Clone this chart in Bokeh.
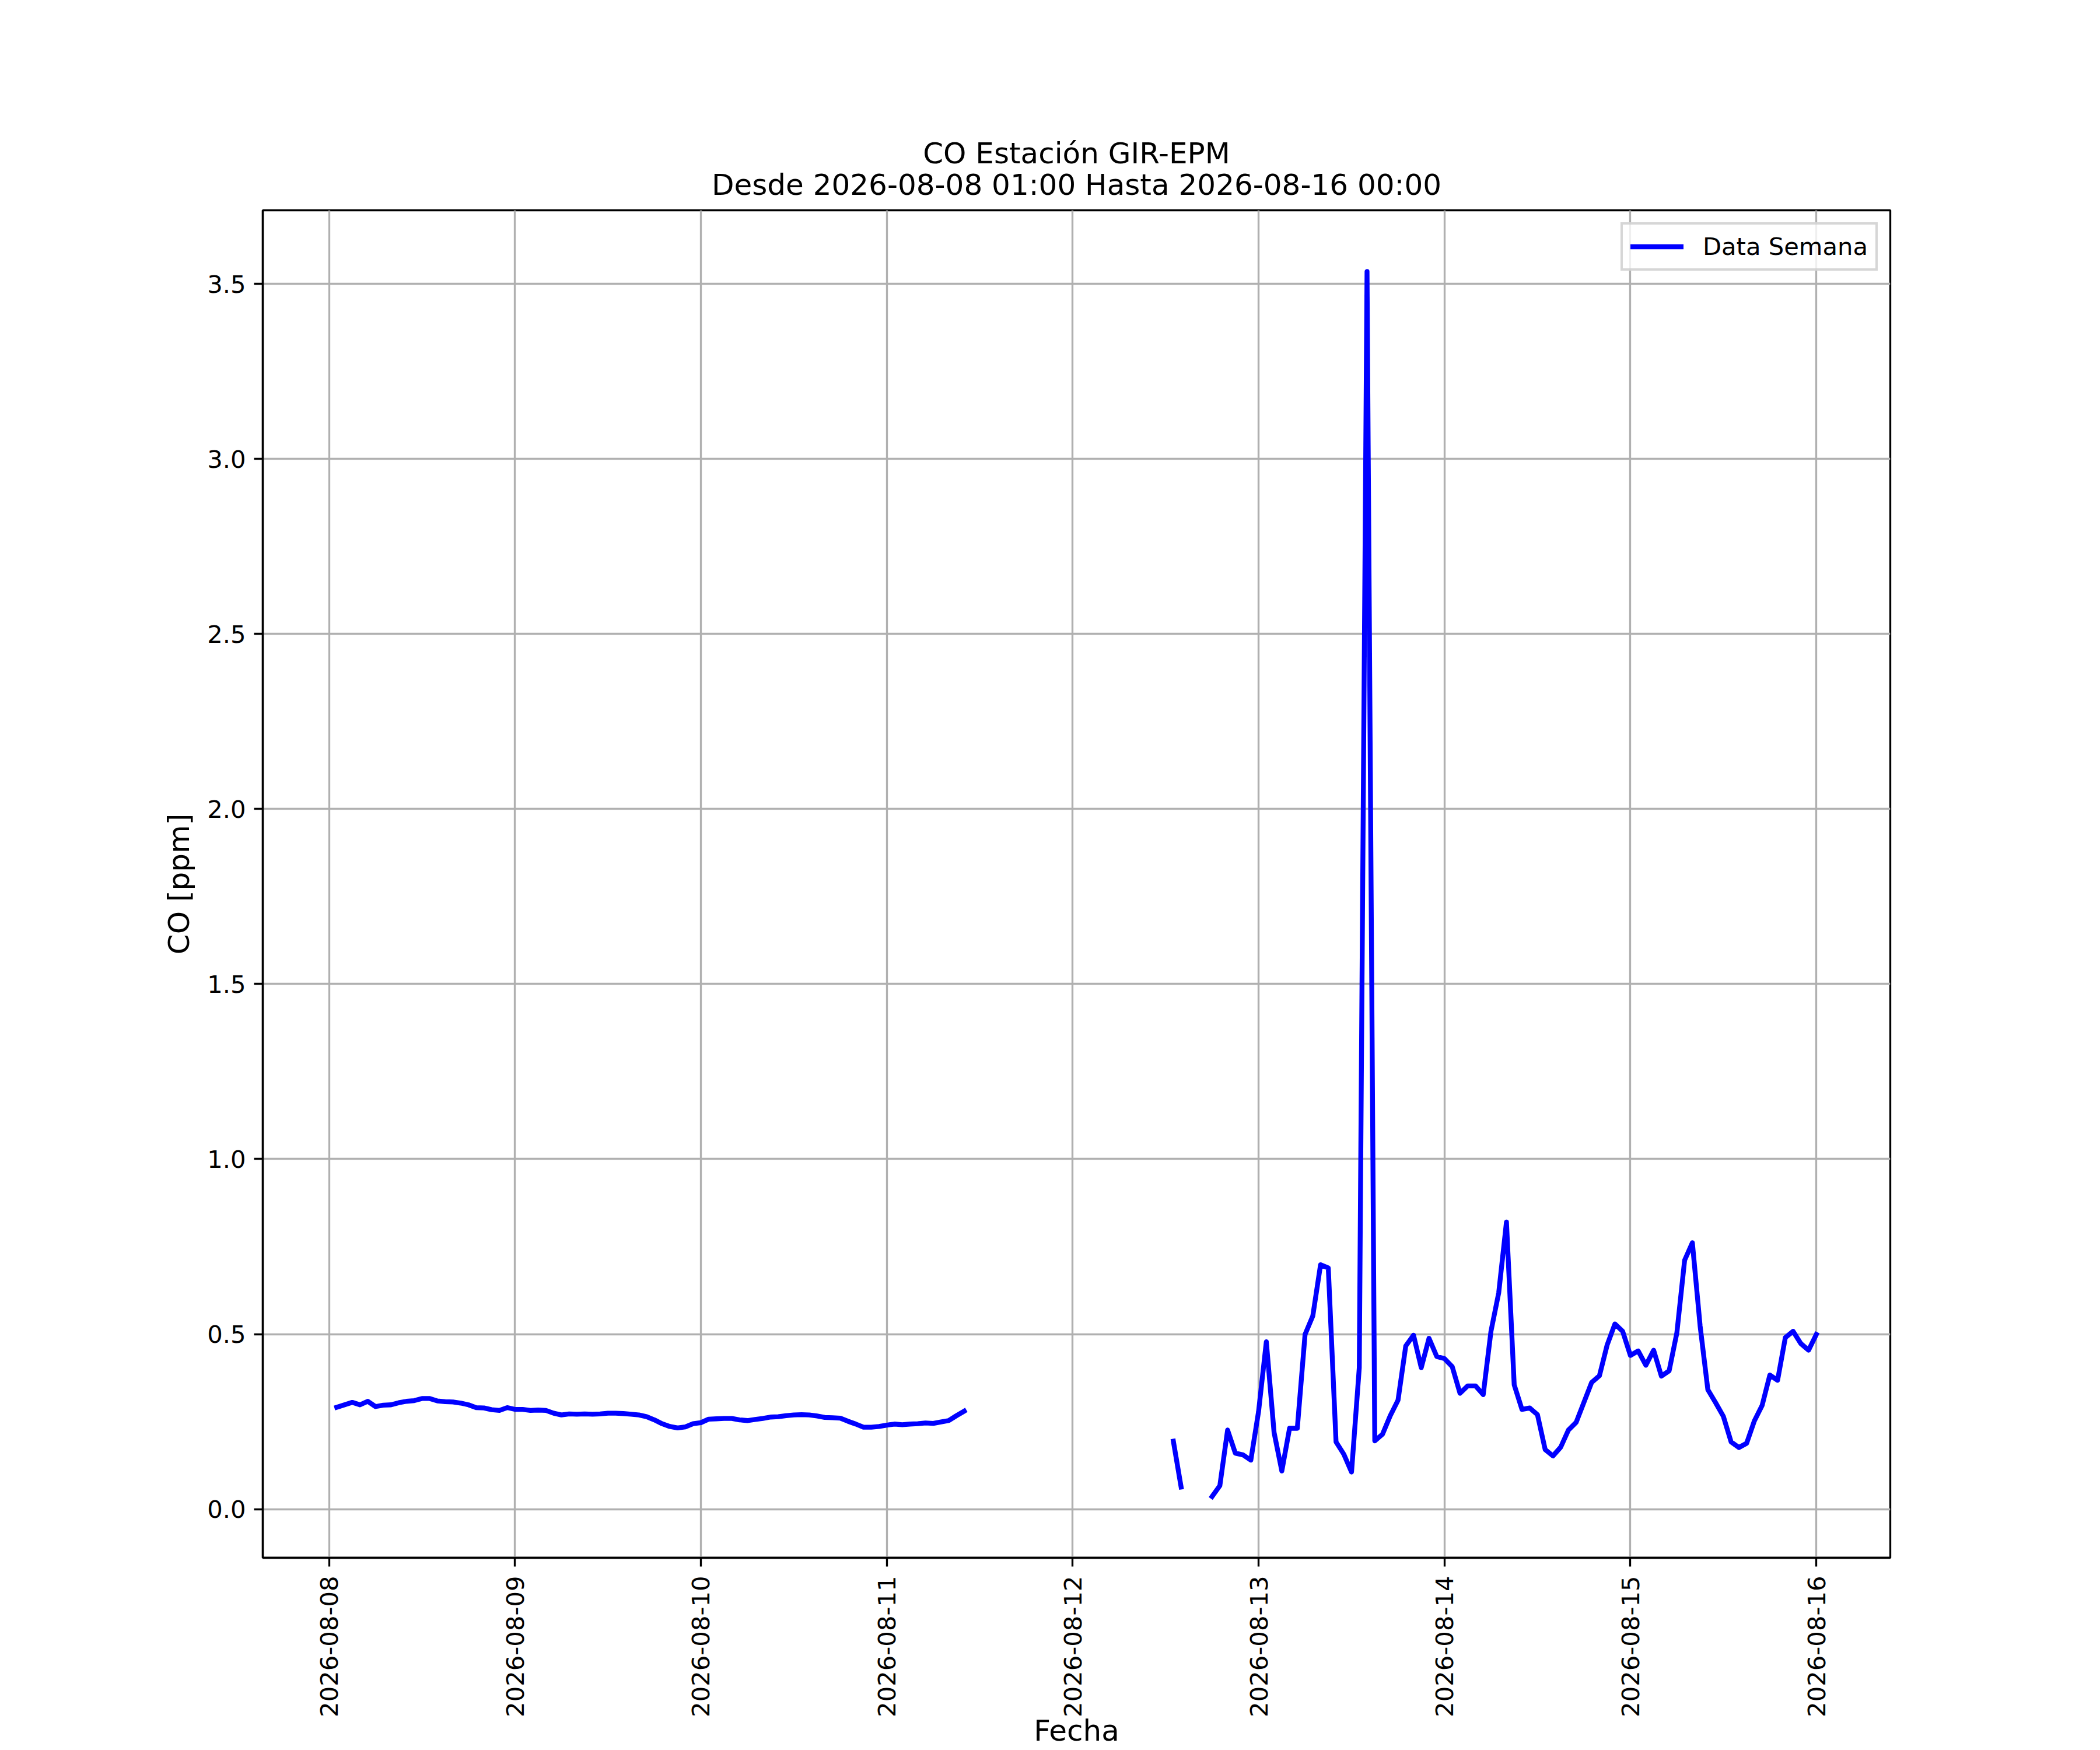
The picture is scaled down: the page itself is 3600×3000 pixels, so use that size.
import math
import numpy as np
import pandas as pd
from bokeh.plotting import figure
from bokeh.models import (Range1d, FixedTicker, PrintfTickFormatter,
                          DatetimeTickFormatter, Title, ColumnDataSource)
from bokeh.embed import file_html
from bokeh.resources import INLINE

# ---------------- data (hourly CO, ppm) ----------------
series_start = "2026-08-08 01:00"
# 2026-08-08 01:00 .. 2026-08-11 10:00
seg1 = [0.291, 0.298, 0.305, 0.298, 0.308, 0.293, 0.297, 0.298, 0.304, 0.308,
        0.310, 0.316, 0.316, 0.309, 0.307, 0.306, 0.303, 0.298, 0.290, 0.289,
        0.284, 0.282, 0.290, 0.285, 0.285, 0.282, 0.283, 0.282, 0.274, 0.269,
        0.272, 0.271, 0.272, 0.271, 0.272, 0.274, 0.274, 0.273, 0.271, 0.269,
        0.264, 0.255, 0.244, 0.236, 0.232, 0.235, 0.244, 0.247, 0.257, 0.258,
        0.259, 0.259, 0.255, 0.253, 0.256, 0.259, 0.263, 0.264, 0.267, 0.269,
        0.270, 0.269, 0.266, 0.262, 0.261, 0.260, 0.251, 0.243, 0.234, 0.234,
        0.236, 0.240, 0.243, 0.241, 0.243, 0.244, 0.246, 0.245, 0.249, 0.253,
        0.267, 0.280]
gap1 = [None] * 26           # 2026-08-11 11:00 .. 2026-08-12 12:00 missing
seg2 = [0.194, 0.063]        # 2026-08-12 13:00, 14:00
gap2 = [None] * 3            # 2026-08-12 15:00 .. 17:00 missing
# 2026-08-12 18:00 .. 2026-08-16 00:00
seg3 = [0.036, 0.067, 0.226, 0.160, 0.155, 0.140, 0.279, 0.478, 0.219, 0.109,
        0.231, 0.231, 0.499, 0.552, 0.698, 0.689, 0.192, 0.157, 0.106, 0.404,
        3.535, 0.195, 0.214, 0.267, 0.311, 0.466, 0.497, 0.404, 0.488, 0.436,
        0.430, 0.407, 0.331, 0.352, 0.352, 0.327, 0.508, 0.618, 0.820, 0.355,
        0.285, 0.289, 0.270, 0.170, 0.152, 0.177, 0.226, 0.248, 0.305, 0.362,
        0.381, 0.469, 0.529, 0.508, 0.439, 0.452, 0.411, 0.454, 0.380, 0.395,
        0.504, 0.711, 0.761, 0.523, 0.341, 0.304, 0.265, 0.192, 0.176, 0.188,
        0.252, 0.296, 0.383, 0.368, 0.490, 0.508, 0.473, 0.454, 0.499]

tick_days = ["2026-08-08", "2026-08-09", "2026-08-10", "2026-08-11", "2026-08-12",
             "2026-08-13", "2026-08-14", "2026-08-15", "2026-08-16"]
y_ticks = [0.0, 0.5, 1.0, 1.5, 2.0, 2.5, 3.0, 3.5]

title_line1 = "CO Estación GIR-EPM"
title_line2 = "Desde 2026-08-08 01:00 Hasta 2026-08-16 00:00"
legend_text = "Data Semana"
x_label = "Fecha"
y_label = "CO [ppm]"

# ---------------- build ----------------
vals = [np.nan if v is None else v for v in (seg1 + gap1 + seg2 + gap2 + seg3)]
times = pd.date_range(series_start, periods=len(vals), freq="h")
src = ColumnDataSource(dict(t=times, v=vals))

def ms(ts):
    return pd.Timestamp(ts).value / 1e6

vv = np.array(vals, dtype=float)
valid = ~np.isnan(vv)
tmin = ms(times[valid][0]); tmax = ms(times[valid][-1])
ymin = np.nanmin(vv); ymax = np.nanmax(vv)
xm = 0.05 * (tmax - tmin); ym = 0.05 * (ymax - ymin)

W, H = 3600, 3000
BL, BR, BT, BB = 450, 360, 360, 330
FONT = "DejaVu Sans"

p = figure(width=W, height=H, x_axis_type="datetime", output_backend="svg",
           toolbar_location=None,
           min_border_left=BL, min_border_right=BR,
           min_border_top=BT, min_border_bottom=BB,
           x_range=Range1d(tmin - xm, tmax + xm),
           y_range=Range1d(ymin - ym, ymax + ym))

p.line("t", "v", source=src, line_color="#0000ff", line_width=8.33,
       line_join="round", line_cap="square", legend_label=legend_text)

xt = FixedTicker(ticks=[ms(d) for d in tick_days])
p.xaxis.ticker = xt
p.xgrid.ticker = xt
fmt = "%Y-%m-%d"
p.xaxis.formatter = DatetimeTickFormatter(
    microseconds=fmt, milliseconds=fmt, seconds=fmt, minsec=fmt, minutes=fmt,
    hourmin=fmt, hours=fmt, days=fmt, months=fmt, years=fmt)
p.xaxis.major_label_orientation = math.pi / 2
p.xaxis.major_label_standoff = 16

yt = FixedTicker(ticks=y_ticks)
p.yaxis.ticker = yt
p.ygrid.ticker = yt
p.yaxis.formatter = PrintfTickFormatter(format="%.1f")
p.yaxis.major_label_standoff = 14

for ax in (p.xaxis[0], p.yaxis[0]):
    ax.axis_line_color = "black"
    ax.axis_line_width = 3.33
    ax.major_tick_line_color = "black"
    ax.major_tick_line_width = 3.33
    ax.major_tick_out = 15
    ax.major_tick_in = 0
    ax.minor_tick_line_color = None
    ax.major_label_text_font = FONT
    ax.major_label_text_font_size = "41.7px"
    ax.major_label_text_color = "black"
    ax.axis_label_text_font = FONT
    ax.axis_label_text_font_size = "50px"
    ax.axis_label_text_font_style = "normal"
    ax.axis_label_text_color = "black"

p.xaxis.axis_label = x_label
p.xaxis.axis_label_standoff = -9
p.yaxis.axis_label = y_label
p.yaxis.axis_label_standoff = 16

for g in (p.xgrid[0], p.ygrid[0]):
    g.grid_line_color = "#b0b0b0"
    g.grid_line_width = 3.33

p.outline_line_color = "black"
p.outline_line_width = 3.33
p.background_fill_color = "white"
p.border_fill_color = "white"

# titles: the added Title sits nearest the frame, p.title above it
p.title.text = title_line1
p.title.align = "center"
p.title.text_font = FONT
p.title.text_font_size = "50px"
p.title.text_font_style = "normal"
p.title.text_color = "black"
p.title.standoff = -43
t2 = Title(text=title_line2, align="center", text_font=FONT,
           text_font_size="50px", text_font_style="normal",
           text_color="black", standoff=30)
p.add_layout(t2, "above")

leg = p.legend[0]
leg.location = "top_right"
leg.margin = 21
leg.padding = 13
leg.spacing = 0
leg.glyph_width = 91
leg.glyph_height = 49
leg.label_height = 49
leg.label_standoff = 33
leg.label_text_font = FONT
leg.label_text_font_size = "41.7px"
leg.label_text_color = "black"
leg.border_line_color = "#cccccc"
leg.border_line_alpha = 0.8
leg.border_line_width = 4.17
leg.background_fill_alpha = 0.8

open("out.html", "w").write(file_html(p, INLINE))
